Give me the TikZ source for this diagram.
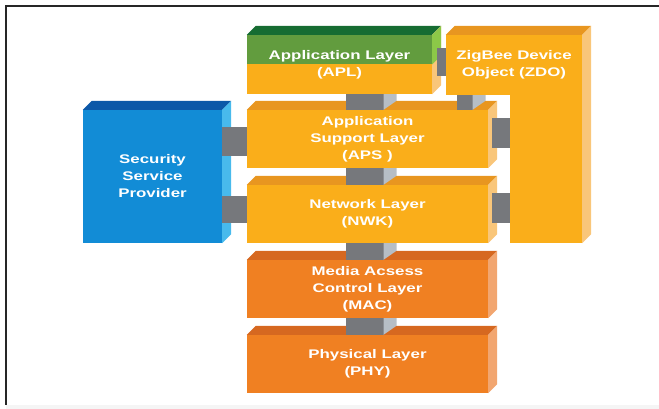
\documentclass[tikz,border=0pt]{standalone}
\usepackage{fontspec}
\newfontfamily\layerfont[FakeStretch=1.35]{Liberation Sans}
\usetikzlibrary{calc}
\definecolor{ylwfront}{RGB}{250,174,26}
\definecolor{ylwtop}{RGB}{232,150,32}
\definecolor{ylwside}{RGB}{249,198,122}
\definecolor{grnfront}{RGB}{98,156,62}
\definecolor{grntop}{RGB}{22,108,50}
\definecolor{grnside}{RGB}{140,200,72}
\definecolor{blufront}{RGB}{18,140,214}
\definecolor{blutop}{RGB}{12,88,168}
\definecolor{bluside}{RGB}{72,186,236}
\definecolor{orgfront}{RGB}{240,128,34}
\definecolor{orgtop}{RGB}{214,104,32}
\definecolor{orgside}{RGB}{242,166,112}
\definecolor{linkdark}{RGB}{118,120,124}
\definecolor{linklight}{RGB}{182,190,198}
% top face and side face of a layer
\def\slab(#1)#2#3{%
  \fill[#2] (#1.north west) -- (#1.north east) -- ++(9,-9) -- ($(#1.north west)+(9,-9)$) -- cycle;
  \fill[#3] (#1.north east) -- ++(9,-9) -- ($(#1.south east)+(9,-9)$) -- (#1.south east) -- cycle;}
% vertical bar between two layers
\def\vlink(#1)(#2)(#3:#4){%
  \fill[linkdark] ($(#2 |- #1)+(#3,0)$) rectangle ($(#2)+(#4,0)$);
  \fill[linklight] ($(#2 |- #1)+(#4,0)$) -- ++(13,0) -- ($(#2)+(#4+13,-9)$) -- ($(#2)+(#4,0)$) -- cycle;}
% horizontal bar between two layers
\def\hlink(#1)(#2)(#3:#4:#5){%
  \fill[linkdark] ($(#1)+(#3,#4)$) rectangle ($(#2 |- #1)+(0,#5)$);}

\begin{document}
\begin{tikzpicture}[x=1pt,y=-1pt,
    layer/.style={inner sep=0pt, align=center, text=white,
      font=\layerfont\bfseries\fontsize{12.5}{17}\selectfont}]
			%%%%% START %%%%%
			\useasboundingbox (0,0) rectangle (659,409);
			\fill[black!4] (6,405) rectangle (659,409);
			\draw[line width=2pt, black!85] (659,6) -- (6,6) -- (6,405);
			
			\node[layer, fill=blufront, minimum width=139pt, minimum height=133pt] (ssp) at (152.5,176.5) {Security\\Service\\Provider};
			
			\node[layer, fill=ylwfront, minimum width=185pt, minimum height=59pt,
			  path picture={\fill[grnfront] (path picture bounding box.north west) rectangle (path picture bounding box.east);}]
			  (apl) at (339.5,64.5) {Application Layer\\(APL)};
			
			\node[layer, fill=ylwfront, minimum width=72pt, minimum height=148pt] (zdocol) at (546,169) {};
			\node[layer, fill=ylwfront, minimum width=136pt, minimum height=60pt] (zdo) at (514,65) {ZigBee Device\\Object (ZDO)};
			
			\node[layer, fill=ylwfront, minimum width=241pt, minimum height=58pt] (aps) at (367.5,139) {Application\\Support Layer\\(APS )};
			\node[layer, fill=ylwfront, minimum width=241pt, minimum height=58pt] (nwk) at (367.5,214) {Network Layer\\(NWK)};
			\node[layer, fill=orgfront, minimum width=241pt, minimum height=58pt] (mac) at (367.5,289) {Media Acsess\\Control Layer\\(MAC)};
			\node[layer, fill=orgfront, minimum width=241pt, minimum height=58pt] (phy) at (367.5,364) {Physical Layer\\(PHY)};
			
			\slab(ssp){blutop}{bluside}
			\slab(apl){grntop}{ylwside}
			\fill[grnside] (apl.north east) -- ++(9,-9) -- ($(apl.east)+(9,-9)$) -- (apl.east) -- cycle;
			\fill[ylwtop] (zdo.north west) -- (zdo.north east) -- ++(9,-9) -- ($(zdo.north west)+(9,-9)$) -- cycle;
			\fill[ylwside] (zdo.north east) -- ++(9,-9) -- ($(zdocol.south east)+(9,-9)$) -- (zdocol.south east) -- cycle;
			\slab(aps){ylwtop}{ylwside}
			\slab(nwk){ylwtop}{ylwside}
			\slab(mac){orgtop}{orgside}
			\slab(phy){orgtop}{orgside}
			
			\vlink(apl.south)(aps.north)(-22:16)
			\vlink(zdo.south)(aps.north)(89:105)
			\vlink(aps.south)(nwk.north)(-22:16)
			\vlink(nwk.south)(mac.north)(-22:16)
			\vlink(mac.south)(phy.north)(-22:16)
			
			\hlink(apl.east)(zdo.west)(5:-16:12)
			\hlink(ssp.east)(aps.west)(0:-49:-20)
			\hlink(ssp.east)(nwk.west)(0:20:46)
			\hlink(aps.east)(zdocol.west)(4:-21:9)
			\hlink(nwk.east)(zdocol.west)(4:-21:9)
			%%%%% END %%%%%
\end{tikzpicture}
\end{document}
